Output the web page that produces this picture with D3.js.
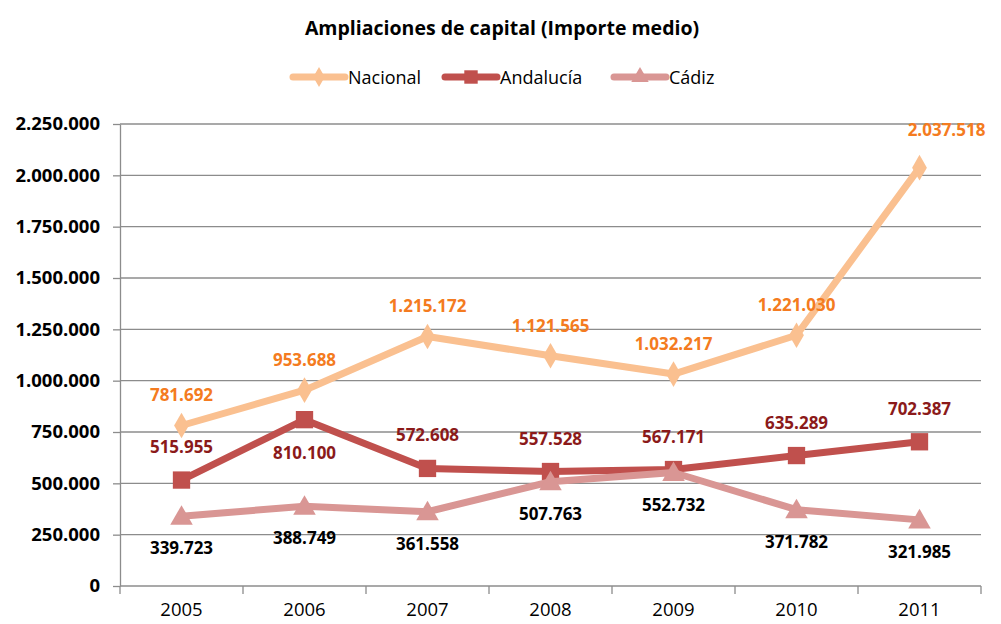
<!DOCTYPE html>
<html>
<head>
<meta charset="utf-8">
<title>Ampliaciones de capital</title>
<script src="https://d3js.org/d3.v7.min.js"></script>
<style>
  body { margin: 0; background: #fff; }
  text { font-family: "Open Sans", Lato, sans-serif; }
  .grid line { stroke: #8c8c8c; stroke-width: 1.3px; }
  .axis path, .axis line { stroke: #8c8c8c; stroke-width: 1.3px; }
</style>
</head>
<body>
<svg id="chart" width="1001" height="624"></svg>
<script>
var years = ["2005", "2006", "2007", "2008", "2009", "2010", "2011"];
var nacional = [781692, 953688, 1215172, 1121565, 1032217, 1221030, 2037518];
var andalucia = [515955, 810100, 572608, 557528, 567171, 635289, 702387];
var cadiz = [339723, 388749, 361558, 507763, 552732, 371782, 321985];
var yTicks = [0, 250000, 500000, 750000, 1000000, 1250000, 1500000, 1750000, 2000000, 2250000];

// label side per point: -1 above, 1 below
var andaluciaSide = [-1, 1, -1, -1, -1, -1, -1];

var svg = d3.select("#chart"),
    pLeft = 120, pRight = 981, pTop = 124, pBottom = 586;

var x = d3.scaleBand().domain(years).range([pLeft, pRight]);
var y = d3.scaleLinear().domain([0, 2250000]).range([pBottom, pTop]);
var fmt = function(v) { return d3.format(",")(v).replace(/,/g, "."); };

svg.append("text").attr("x", 502).attr("y", 35).attr("text-anchor", "middle")
   .style("font-size", "19.5px").style("font-weight", "bold").text("Ampliaciones de capital (Importe medio)");

// grid
svg.append("g").attr("class", "grid")
   .selectAll("line").data(yTicks.slice(1)).enter().append("line")
   .attr("x1", pLeft).attr("x2", pRight)
   .attr("y1", function(d) { return y(d); }).attr("y2", function(d) { return y(d); });

// axes
svg.append("g").attr("class", "axis").attr("transform", "translate(" + pLeft + ",0)")
   .call(d3.axisLeft(y).tickValues(yTicks).tickSize(7).tickSizeOuter(0).tickPadding(13).tickFormat(fmt))
   .call(function(g) { g.selectAll("text").style("font-size", "18.5px").style("font-weight", "bold").attr("fill", "#000"); });

var xAxis = svg.append("g").attr("class", "axis").attr("transform", "translate(0," + pBottom + ")")
   .call(d3.axisBottom(x).tickSize(0).tickPadding(17))
   .call(function(g) { g.selectAll("text").style("font-size", "18.5px").attr("fill", "#000"); });
xAxis.select(".domain").attr("d", "M" + pLeft + ",0H" + pRight);
xAxis.selectAll(".sep").data(years.concat(["end"])).enter().append("line")
   .attr("x1", function(d, i) { return pLeft + i * x.bandwidth(); })
   .attr("x2", function(d, i) { return pLeft + i * x.bandwidth(); })
   .attr("y1", 0).attr("y2", 8);

var cx = function(i) { return x(years[i]) + x.bandwidth() / 2; };

var series = [
  { name: "Nacional", values: nacional, color: "#fac090", label: "#f47b20", shape: d3.symbolDiamond, size: 190 },
  { name: "Andalucía", values: andalucia, color: "#c0504d", label: "#8b1a1a", shape: d3.symbolSquare, size: 300 },
  { name: "Cádiz", values: cadiz, color: "#d99694", label: "#000", shape: d3.symbolTriangle, size: 220 }
];

var line = d3.line().x(function(d, i) { return cx(i); }).y(function(d) { return y(d); });

series.forEach(function(s) {
  svg.append("path").datum(s.values).attr("d", line)
     .attr("fill", "none").attr("stroke", s.color).attr("stroke-width", 7).attr("stroke-linejoin", "round");
  svg.selectAll(null).data(s.values).enter().append("path")
     .attr("d", d3.symbol().type(s.shape).size(s.size))
     .attr("transform", function(d, i) { return "translate(" + cx(i) + "," + (y(d) + (s.shape === d3.symbolTriangle ? 2 : 0)) + ")"; })
     .attr("fill", s.color);
});

// labels
svg.selectAll(null).data(nacional).enter().append("text")
   .attr("x", function(d, i) { return cx(i) + (i === 6 ? 27 : 0); })
   .attr("y", function(d, i) { return y(d) - (i === 6 ? 32 : 24); })
   .attr("text-anchor", "middle").style("font-size", "17px").style("font-weight", "bold")
   .attr("fill", series[0].label).text(fmt);

svg.selectAll(null).data(andalucia).enter().append("text")
   .attr("x", function(d, i) { return cx(i); })
   .attr("y", function(d, i) { return andaluciaSide[i] < 0 ? y(d) - 27 : y(d) + 39; })
   .attr("text-anchor", "middle").style("font-size", "17px").style("font-weight", "bold")
   .attr("fill", series[1].label).text(fmt);

svg.selectAll(null).data(cadiz).enter().append("text")
   .attr("x", function(d, i) { return cx(i); })
   .attr("y", function(d) { return y(d) + 38; })
   .attr("text-anchor", "middle").style("font-size", "17px").style("font-weight", "bold")
   .attr("fill", series[2].label).text(fmt);

// legend
var legendX = [293, 445, 614];
var lg = svg.append("g").selectAll("g").data(series).enter().append("g")
   .attr("transform", function(d, i) { return "translate(" + legendX[i] + ",77)"; });
lg.append("line").attr("x1", 0).attr("x2", 52).attr("stroke", function(d) { return d.color; })
  .attr("stroke-width", 7).attr("stroke-linecap", "round");
lg.append("path").attr("transform", "translate(26,0)")
  .attr("d", function(d) { return d3.symbol().type(d.shape).size(d.size * 0.6)(); })
  .attr("fill", function(d) { return d.color; });
lg.append("text").attr("x", 55).attr("y", 6.5).style("font-size", "18px").attr("fill", "#000")
  .text(function(d) { return d.name; });
</script>
</body>
</html>
